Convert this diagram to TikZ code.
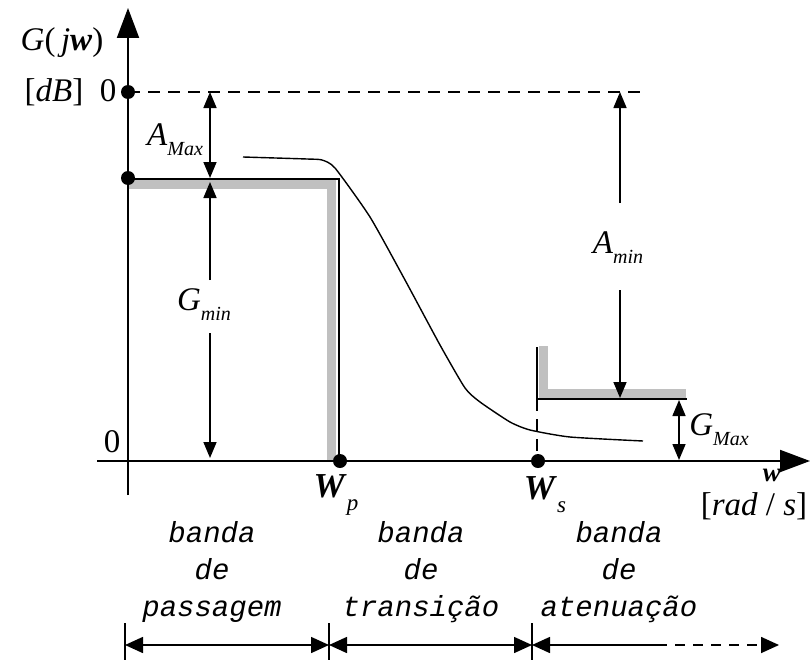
\documentclass[tikz,border=0pt]{standalone}
\usepackage{fontspec}
\setmainfont{Liberation Serif}
\setmonofont{Liberation Mono}
\usetikzlibrary{arrows.meta}
\newcommand\lblsub[2]{\textit{#1}\raisebox{-0.3em}{\fontsize{20}{20}\selectfont\textit{#2}}}
\newcommand\omsub[2]{{\fontsize{35}{40}\selectfont\textbf{\textit{#1}}}\raisebox{-0.4em}{\fontsize{23}{23}\selectfont\textit{#2}}}
\begin{document}
\begin{tikzpicture}[x=1pt,y=-1pt,
  lbl/.style={inner sep=0pt,font=\fontsize{33}{38}\selectfont},
  band/.style={inner sep=0pt,font=\fontsize{29}{37}\selectfont\ttfamily\itshape,align=center},
  axisline/.style={line width=2pt,-{Triangle[length=30pt,width=22pt]}},
  dim/.style={line width=1.6pt,{Triangle[length=16pt,width=13pt]}-{Triangle[length=16pt,width=13pt]}},
  dimup/.style={line width=1.6pt,-{Triangle[length=16pt,width=13pt]}},
  bar/.style={line width=1.6pt,{Triangle[length=18pt,width=16pt]}-{Triangle[length=18pt,width=16pt]}},
  grey/.style={line width=9pt,draw={rgb,255:red,192;green,192;blue,192}},
  dot/.style={circle,fill=black,inner sep=0pt,minimum size=14pt}]
\useasboundingbox (0,0) rectangle (810,661);
% named coordinates
\coordinate (O) at (128,461);
\coordinate (ybot) at (128,495);
\coordinate (ytop) at (128,8);
\coordinate (xl) at (97,461);
\coordinate (xr) at (810,461);
% grey tolerance bands
\draw[grey] (128,184.5) -- (331.5,184.5) -- (331.5,461);
\draw[grey] (543.5,346) -- (543.5,393.5) -- (686,393.5);
% dashed 0 dB line
\draw[line width=1.3pt,dash pattern=on 12pt off 8pt] (128,92) -- (643,92);
% passband limit line
\draw[line width=2pt] (128,179) -- (339,179) -- (339,461);
% stopband limit line
\draw[line width=2pt] (537,347) -- (537,399) -- (687,399);
\draw[line width=1.5pt,dash pattern=on 12pt off 8pt] (537,399) -- (537,461);
% axes
\draw[axisline] (ybot) -- (ytop);
\draw[axisline] (xl) -- (xr);
% dots
\node[dot] (d0) at (128,92) {};
\node[dot] (dg) at (128,178) {};
\node[dot] (dp) at (340,461) {};
\node[dot] (ds) at (538,461) {};
% response curve
\draw[line width=1.4pt] plot[smooth,tension=0.35] coordinates {(243,157) (307,159) (322,160) (335,168) (370,217) (405,280) (440,345) (465,388) (480,402) (510,422) (530,430) (570,437) (643,441)};
% labels
\node[lbl] (gjw) at (62,43) {\textit{G}(\,\textit{j}\textbf{\textit{w}})};
\node[lbl] (db) at (54,92) {[\textit{dB}]};
\node[lbl] (z1) at (108,91) {0};
\node[lbl] (z0) at (112,442) {0};
\node[lbl] (amax) at (175,140) {\lblsub{A}{Max}};
\node[lbl] (gmin) at (204,305) {\lblsub{G}{min}};
\node[lbl] (amin) at (618,248) {\lblsub{A}{min}};
\node[lbl] (gmax) at (719,430) {\lblsub{G}{Max}};
\node[lbl] (wp) at (336,495) {\omsub{W}{p}};
\node[lbl] (ws) at (545,495) {\omsub{W}{s}};
\node[inner sep=0pt,font=\fontsize{27}{30}\selectfont] (wx) at (772,475) {\textbf{\textit{w}}};
\node[lbl] (rad) at (754,506) {[\textit{rad} / \textit{s}]};
% dimension arrows
\coordinate (a1) at (210,92);
\coordinate (a2) at (210,178);
\draw[dim] (a1) -- (a2);
\coordinate (g1) at (210,182);
\coordinate (g2) at (210,280);
\coordinate (g3) at (210,333);
\coordinate (g4) at (210,458);
\draw[dimup] (g2) -- (g1);
\draw[dimup] (g3) -- (g4);
\coordinate (m1) at (620,92);
\coordinate (m2) at (620,203);
\coordinate (m3) at (620,290);
\coordinate (m4) at (620,398);
\draw[dimup] (m2) -- (m1);
\draw[dimup] (m3) -- (m4);
\coordinate (x1) at (679,400);
\coordinate (x2) at (679,460);
\draw[dim] (x1) -- (x2);
% band labels
\node[band] (b1) at (212,572) {banda\\de\\passagem};
\node[band] (b2) at (421,572) {banda\\de\\transição};
\node[band] (b3) at (619,572) {banda\\de\\atenuação};
% band arrows
\coordinate (t1) at (125,645);
\coordinate (t2) at (329,645);
\coordinate (t3) at (532,645);
\coordinate (t4) at (657,645);
\coordinate (t5) at (779,645);
\draw[line width=1.2pt] (125,623) -- (125,660);
\draw[line width=1.2pt] (329,623) -- (329,660);
\draw[line width=1.2pt] (532,623) -- (532,660);
\draw[bar] (t1) -- (t2);
\draw[bar] (t2) -- (t3);
\draw[line width=1.6pt,{Triangle[length=18pt,width=16pt]}-] (t3) -- (t4);
\draw[line width=1.6pt,dash pattern=on 10pt off 8pt,-{Triangle[length=18pt,width=16pt]}] (t4) -- (t5);
\end{tikzpicture}
\end{document}
